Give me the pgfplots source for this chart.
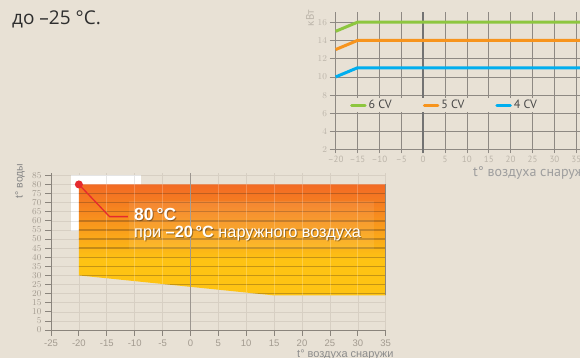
\documentclass[border=0pt]{standalone}
\usepackage{pgfplots}
\pgfplotsset{compat=1.18}
\usepackage{fontspec}
\setmainfont{Liberation Sans}
\newfontfamily\ptsans{PT Sans}
\newfontfamily\opensans{Open Sans}
\definecolor{bg}{HTML}{E8E1D5}
\definecolor{txt}{HTML}{2E2E2E}
\definecolor{gridd}{HTML}{8E8983}
\definecolor{tlab}{HTML}{BBB4A9}
\definecolor{cgreen}{HTML}{8DC63F}
\definecolor{corange}{HTML}{F7941D}
\definecolor{cblue}{HTML}{00AEEF}
\definecolor{axc}{HTML}{8A847C}
\definecolor{gridl}{HTML}{D7CFC3}
\definecolor{blab}{HTML}{A39B90}
\definecolor{cY}{HTML}{FEC313}
\definecolor{cM}{HTML}{F9A01B}
\definecolor{cM2}{HTML}{F6871F}
\definecolor{cT}{HTML}{F26A24}
\definecolor{cred}{HTML}{E52A2E}
\pgfdeclareverticalshading{heat}{100bp}{color(0bp)=(cY); color(25bp)=(cY); color(41bp)=(cY); color(54bp)=(cM); color(63bp)=(cM2); color(75bp)=(cT); color(100bp)=(cT)}
\begin{document}
\begin{tikzpicture}[x=1pt,y=1pt]
\path[use as bounding box] (0,0) rectangle (580,358);
\clip (0,0) rectangle (580,358);
\fill[bg] (0,0) rectangle (580,358);

\node[anchor=base west, inner sep=0pt, text=txt, font=\opensans\fontsize{19}{20}\selectfont] at (12,333) {до –25 °C.};

% ---------- top chart ----------
\begin{axis}[
  at={(329.5pt,204.5pt)}, anchor=south west,
  scale only axis, width=259.9pt, height=141.6pt,
  xmin=-21.4, xmax=38, ymin=1.6, ymax=17.13,
  axis lines=left, axis line style={draw=none,-},
  major tick length=0pt,
  xtick={-20,-15,...,35},
  xticklabels={–20,–15,–10,–5,0,5,10,15,20,25,30,35},
  ytick={2,4,...,16},
  grid=major, grid style={gridd, line width=0.7pt},
  ticklabel style={font=\ptsans\fontsize{9}{10}\selectfont, text=tlab},
  xticklabel style={yshift=1pt},
  yticklabel style={xshift=1pt},
  legend columns=3,
  legend style={at={(0.0789,0.341)}, anchor=west, draw=none, fill=bg, inner sep=0pt,
    font=\ptsans\fontsize{12}{13}\selectfont, text=black!72,
    /tikz/every even column/.append style={column sep=29pt}},
  legend image code/.code={\draw[line width=3pt, line cap=round] (1.5pt,0pt) -- (15pt,0pt);},
  clip=false,
]
\draw[black!55, line width=1.4pt] (axis cs:0,1.6) -- (axis cs:0,17.13);
\addplot[cgreen, line width=3pt, line join=round] coordinates {(-20,15) (-15,16) (38,16)};
\addlegendentry{6 CV}
\addplot[corange, line width=3pt, line join=round] coordinates {(-20,13) (-15,14) (38,14)};
\addlegendentry{5 CV}
\addplot[cblue, line width=3pt, line join=round] coordinates {(-20,10) (-15,11) (38,11)};
\addlegendentry{4 CV}
\end{axis}
\node[rotate=90, anchor=center, inner sep=0pt, text=tlab, font=\ptsans\fontsize{11}{12}\selectfont] at (310,340) {кВт};
\node[anchor=base west, inner sep=0pt, text=black!38, font=\ptsans\fontsize{14}{16}\selectfont] at (473,181) {t° воздуха снаружи};

% ---------- bottom chart ----------
\begin{axis}[
  at={(51pt,28pt)}, anchor=south west,
  scale only axis, width=334.7pt, height=157.4pt,
  xmin=-25, xmax=35, ymin=0, ymax=86.5,
  axis x line=bottom, axis y line=left,
  axis line style={axc, line width=0.9pt, -},
  xtick={-25,-20,...,35},
  xticklabels={-25,-20,-15,-10,-5,0,5,10,15,20,25,30,35},
  ytick={0,5,...,85},
  tick align=outside, major tick length=6pt,
  tick style={axc, line width=0.8pt},
  grid=major, grid style={gridl, line width=0.6pt},
  ticklabel style={font=\fontsize{9.5}{10}\selectfont, text=blab},
  clip=false,
]
\fill[white] (axis cs:-21.5,55) rectangle (axis cs:-8.8,85);
\pgfplotsinvokeforeach{55,60,...,85}{\draw[black!10, line width=0.6pt] (axis cs:-21.5,#1) -- (axis cs:-8.8,#1);}
\draw[black!10, line width=0.6pt] (axis cs:-15,55) -- (axis cs:-15,85);
\draw[black!10, line width=0.6pt] (axis cs:-10,55) -- (axis cs:-10,85);
\addplot[draw=none, shade, shading=heat] coordinates {(-20,80) (35,80) (35,19) (15,19) (-20,30)} -- cycle;
\begin{scope}
\clip (axis cs:-20,80) -- (axis cs:35,80) -- (axis cs:35,19) -- (axis cs:15,19) -- (axis cs:-20,30) -- cycle;
\pgfplotsinvokeforeach{20,25,...,75}{\draw[black!60!brown, opacity=0.32, line width=1.4pt] (axis cs:-25,#1) -- (axis cs:35,#1);}
\pgfplotsinvokeforeach{-15,-10,-5,5,10,15,20,25,30}{\draw[white, opacity=0.22, line width=0.7pt] (axis cs:#1,0) -- (axis cs:#1,86.5);}
\end{scope}
\draw[black!40!bg, line width=0.9pt] (axis cs:35,19) -- (axis cs:35,80);
\draw[axc!85, line width=1pt] (axis cs:0,0) -- (axis cs:0,86.5);
\addplot[cred, line width=1.3pt, mark=*, mark size=3.3pt, mark indices={1}, mark options={fill=cred, draw=cred}] coordinates {(-20,80) (-14.5,62.3) (-11.2,62.3)};
\end{axis}
\fill[white, opacity=0.08] (129,109) rectangle (374,157);
\node[anchor=base west, inner sep=0pt, text=black, opacity=0.35, font=\bfseries\fontsize{17.5}{19}\selectfont] at (135,136) {80\,°C};
\node[anchor=base west, inner sep=0pt, text=white, font=\bfseries\fontsize{17.5}{19}\selectfont] at (134,137) {80\,°C};
\node[anchor=base west, inner sep=0pt, text=black, opacity=0.35, font=\fontsize{16.3}{18}\selectfont] at (135,119.5) {при \textbf{–20\,°C} наружного воздуха};
\node[anchor=base west, inner sep=0pt, text=white, font=\fontsize{16.3}{18}\selectfont] at (134,120.5) {при \textbf{–20\,°C} наружного воздуха};
\node[rotate=90, anchor=center, inner sep=0pt, text=black!48, font=\fontsize{10.5}{12}\selectfont] at (20,177) {t° воды};
\node[anchor=base west, inner sep=0pt, text=black!45, font=\fontsize{11}{12}\selectfont] at (297,0.5) {t° воздуха снаружи};
\end{tikzpicture}
\end{document}
